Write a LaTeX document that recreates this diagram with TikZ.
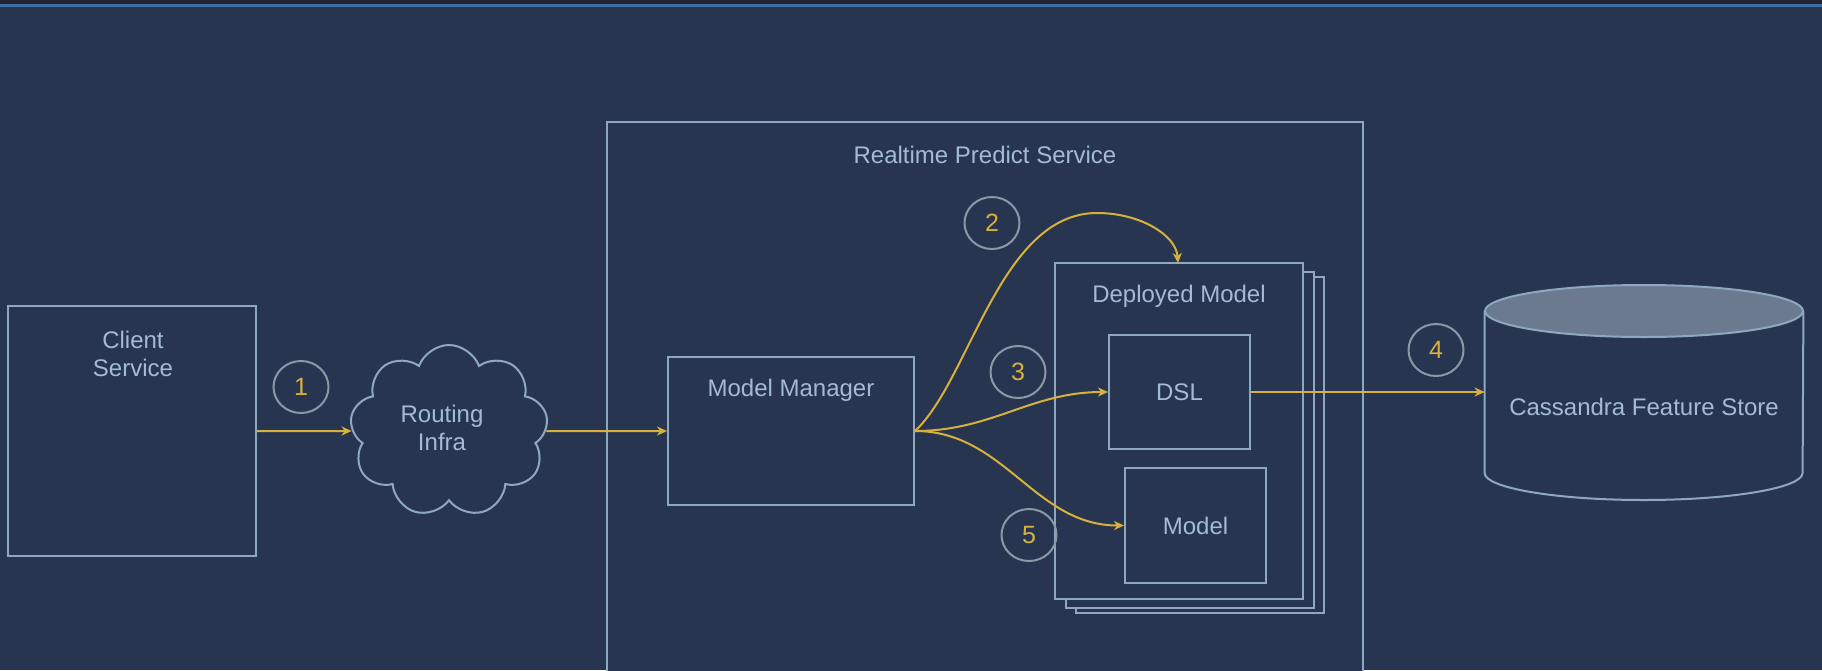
\documentclass[tikz,border=0pt]{standalone}
\usepackage{fontspec}
\setmainfont{Liberation Sans}
\usetikzlibrary{arrows.meta,shapes.symbols,shapes.geometric}
\definecolor{bg}{HTML}{283550}
\definecolor{topdark}{HTML}{23232F}
\definecolor{topblue}{HTML}{3D6EA6}
\definecolor{edge}{HTML}{8EA8C0}
\definecolor{txt}{HTML}{A3BBD3}
\definecolor{flow}{HTML}{D6B23C}
\definecolor{ring}{HTML}{8C98A6}
\definecolor{capfill}{HTML}{6B7A8E}
\tikzset{
  box/.style={draw=edge, line width=1pt, fill=bg, rectangle, inner sep=0pt},
  lbl/.style={text=txt, font=\fontsize{12}{14}\selectfont, align=center, inner sep=0pt},
  num/.style={ellipse, draw=ring, line width=1pt, minimum width=27.5pt, minimum height=26pt, inner sep=0pt, text=flow, font=\fontsize{12.5}{14}\selectfont},
  flowarrow/.style={draw=flow, line width=1pt, -{Stealth[length=5pt,width=4.5pt,inset=1.5pt]}},
}
\begin{document}
\begin{tikzpicture}[x=0.5pt,y=-0.5pt]
\useasboundingbox (0,0) rectangle (1822,670);
\clip (0,0) rectangle (1822,670);
\fill[bg] (0,0) rectangle (1822,670);
\fill[topdark] (0,0) rectangle (1822,4);
\fill[topblue] (0,4) rectangle (1822,7);

% Realtime Predict Service container
\node[box, minimum width=378pt, minimum height=290pt] (rps) at (985,412) {};
\node[lbl] (rpst) at (985,155) {Realtime Predict Service};

% Client Service
\node[box, minimum width=124pt, minimum height=125pt] (cs) at (132,431) {};
\node[lbl] (cst) at (133,354) {Client\\Service};

% Routing cloud
\node[cloud, draw=edge, line width=1pt, fill=bg, cloud puffs=9, cloud puff arc=140, aspect=1.15,
      minimum width=99pt, minimum height=86pt, inner sep=0pt] (ri) at (449,431) {};
\node[lbl] (rit) at (442,428) {Routing\\Infra};

% Model Manager
\node[box, minimum width=123pt, minimum height=74pt] (mm) at (791,431) {};
\node[lbl] (mmt) at (791,390) {Model Manager};

% Deployed model stack
\node[box, minimum width=124pt, minimum height=168pt] (dm3) at (1200,445) {};
\node[box, minimum width=124pt, minimum height=168pt] (dm2) at (1190,440) {};
\node[box, minimum width=124pt, minimum height=168pt] (dm) at (1179,431) {};
\node[lbl] (dmt) at (1179,296) {Deployed Model};
\node[box, minimum width=70.5pt, minimum height=57pt, lbl] (dsl) at (1179.5,392) {DSL};
\node[box, minimum width=70.5pt, minimum height=57.5pt, lbl] (mdl) at (1195.5,525.5) {Model};

% Cassandra cylinder
\node[minimum width=159pt, minimum height=107pt, inner sep=0pt] (cas) at (1644,392) {};
\filldraw[fill=bg, draw=edge, line width=1pt] (cas.west |- 0,311) -- (cas.west |- 0,473)
  arc[start angle=180, end angle=360, x radius=79.5pt, y radius=13.5pt] -- (cas.east |- 0,311);
\filldraw[fill=capfill, draw=edge, line width=1pt] (1644,311) ellipse[x radius=79.5pt, y radius=13pt];
\node[lbl] (cast) at (1644,407) {Cassandra Feature Store};

% numbers
\node[num] (n1) at (301,387) {1};
\node[num] (n2) at (992,223) {2};
\node[num] (n3) at (1018,372) {3};
\node[num] (n4) at (1436,350) {4};
\node[num] (n5) at (1029,535) {5};

% connectors
\coordinate (dmtop) at (1178,263);
\draw[flowarrow] (cs.east) -- (ri.west);
\draw[flowarrow] (ri.east) -- (mm.west);
\draw[flowarrow] (mm.east) .. controls (970,380) and (1000,213) .. (1097,213)
  .. controls (1140,213) and (1176,235) .. (dmtop);
\draw[flowarrow] (mm.east) to[out=0,in=180] (dsl.west);
\draw[flowarrow] (mm.east) to[out=0,in=180] (mdl.west);
\draw[flowarrow] (dsl.east) -- (cas.west);
\end{tikzpicture}
\end{document}
